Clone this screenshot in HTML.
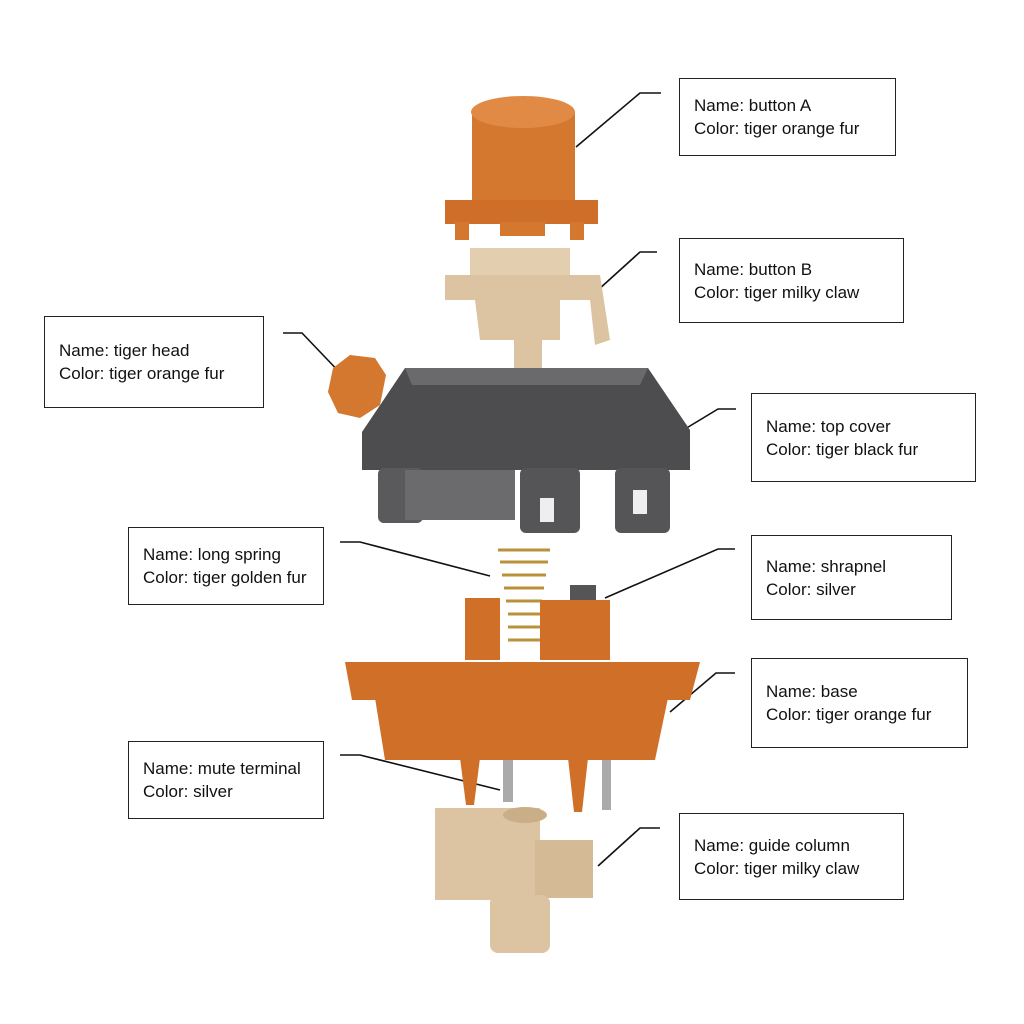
<!DOCTYPE html>
<html><head><meta charset="utf-8"><style>
html,body{margin:0;padding:0;background:#fff;}
.wrap{position:relative;width:1024px;height:1024px;overflow:hidden;font-family:"Liberation Sans",sans-serif;}
.box{position:absolute;border:1.5px solid #222;background:#fff;box-sizing:border-box;font-size:17px;line-height:23px;color:#111;padding-left:14px;display:flex;flex-direction:column;justify-content:center;}
svg{position:absolute;left:0;top:0;}
</style></head><body><div class="wrap">
<svg width="1024" height="1024" viewBox="0 0 1024 1024">
<!-- leader lines -->
<g stroke="#111" stroke-width="1.6" fill="none">
<polyline points="661,93 640,93 576,147"/>
<polyline points="657,252 640,252 598,290"/>
<polyline points="283,333 302,333 345,378"/>
<polyline points="736,409 718,409 680,432"/>
<polyline points="340,542 360,542 490,576"/>
<polyline points="735,549 718,549 605,598"/>
<polyline points="735,673 716,673 670,712"/>
<polyline points="340,755 360,755 500,790"/>
<polyline points="660,828 640,828 598,866"/>
</g>
<!-- button A -->
<g fill="#d4772f">
<rect x="472" y="112" width="103" height="92"/>
<ellipse cx="523" cy="112" rx="52" ry="16" fill="#e08a45"/>
<rect x="445" y="200" width="153" height="24" fill="#cf6e28"/>
<rect x="455" y="222" width="14" height="18"/>
<rect x="570" y="222" width="14" height="18"/>
<rect x="500" y="222" width="45" height="14"/>
</g>
<!-- button B -->
<g fill="#dcc4a2">
<rect x="470" y="248" width="100" height="30" fill="#e3cfb0"/>
<polygon points="445,275 600,275 610,340 595,345 590,300 560,300 560,340 480,340 475,300 445,300"/>
<rect x="514" y="335" width="28" height="52"/>
</g>
<!-- tiger head -->
<g fill="#d4772f">
<polygon points="333,368 350,355 375,358 386,375 380,405 360,418 338,413 328,392"/>
</g>
<!-- top cover -->
<g>
<polygon points="405,368 648,368 690,430 690,470 362,470 362,432" fill="#4d4d4f"/>
<polygon points="405,368 648,368 640,385 412,385" fill="#6a6a6c"/>
<rect x="378" y="468" width="45" height="55" rx="6" fill="#5a5a5c"/>
<rect x="405" y="470" width="110" height="50" fill="#6b6b6d"/>
<rect x="520" y="468" width="60" height="65" rx="6" fill="#555557"/>
<rect x="615" y="468" width="55" height="65" rx="6" fill="#555557"/>
<rect x="540" y="498" width="14" height="24" fill="#eee"/>
<rect x="633" y="490" width="14" height="24" fill="#eee"/>
</g>
<!-- spring -->
<g stroke="#b8913a" stroke-width="3" fill="none">
<path d="M498,550 h52 M500,562 h48 M502,575 h44 M504,588 h40 M506,601 h36 M508,614 h32 M508,627 h32 M508,640 h32"/>
</g>
<rect x="570" y="585" width="26" height="28" fill="#555"/>
<!-- base -->
<g fill="#d06f28">
<polygon points="465,598 500,598 500,660 465,660"/>
<rect x="540" y="600" width="70" height="60"/>
<polygon points="345,662 700,662 690,700 352,700"/>
<polygon points="375,698 668,698 655,760 385,760"/>
<polygon points="460,758 480,758 474,805 466,805"/>
<polygon points="568,758 588,758 582,812 574,812"/>
</g>
<rect x="503" y="760" width="10" height="42" fill="#aaa"/>
<rect x="602" y="760" width="9" height="50" fill="#aaa"/>
<!-- guide column -->
<g fill="#dcc4a2">
<rect x="435" y="808" width="105" height="92"/>
<rect x="535" y="840" width="58" height="58" fill="#d4ba95"/>
<rect x="490" y="895" width="60" height="58" rx="8"/>
<ellipse cx="525" cy="815" rx="22" ry="8" fill="#c9ae88"/>
</g>
</svg>
<div class="box" style="left:679px;top:78px;width:217px;height:78px;"><div>Name: button A</div><div>Color: tiger orange fur</div></div>
<div class="box" style="left:679px;top:238px;width:225px;height:85px;"><div>Name: button B</div><div>Color: tiger milky claw</div></div>
<div class="box" style="left:44px;top:316px;width:220px;height:92px;"><div>Name: tiger head</div><div>Color: tiger orange fur</div></div>
<div class="box" style="left:751px;top:393px;width:225px;height:89px;"><div>Name: top cover</div><div>Color: tiger black fur</div></div>
<div class="box" style="left:128px;top:527px;width:196px;height:78px;"><div>Name: long spring</div><div>Color: tiger golden fur</div></div>
<div class="box" style="left:751px;top:535px;width:201px;height:85px;"><div>Name: shrapnel</div><div>Color: silver</div></div>
<div class="box" style="left:751px;top:658px;width:217px;height:90px;"><div>Name: base</div><div>Color: tiger orange fur</div></div>
<div class="box" style="left:128px;top:741px;width:196px;height:78px;"><div>Name: mute terminal</div><div>Color: silver</div></div>
<div class="box" style="left:679px;top:813px;width:225px;height:87px;"><div>Name: guide column</div><div>Color: tiger milky claw</div></div>
</div></body></html>
